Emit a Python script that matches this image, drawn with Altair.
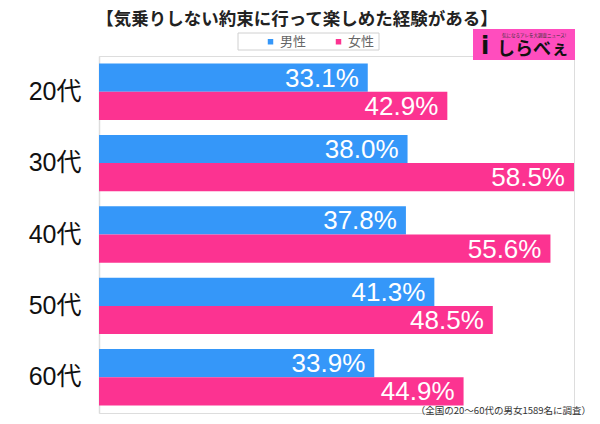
import altair as alt
import pandas as pd

ages = ["20代", "30代", "40代", "50代", "60代"]
genders = ["男性", "女性"]
male = [33.1, 38.0, 37.8, 41.3, 33.9]
female = [42.9, 58.5, 55.6, 48.5, 44.9]
colors = ["#3597F9", "#FC3391"]
title_text = "【気乗りしない約束に行って楽しめた経験がある】"
note_text = "（全国の20〜60代の男女1589名に調査）"
logo_text = "しらべぇ"
logo_tag = "気になるアレを大調査ニュース!"

rows = []
for i, a in enumerate(ages):
    rows.append({"age": a, "gender": genders[0], "value": male[i]})
    rows.append({"age": a, "gender": genders[1], "value": female[i]})
df = pd.DataFrame(rows)

FONT = "Noto Sans CJK JP, Liberation Sans, sans-serif"
NUMFONT = "Liberation Sans, Noto Sans CJK JP, sans-serif"
W, H = 475, 357

base = alt.Chart(df).transform_calculate(
    label="format(datum.value, '.1f') + '%'"
)

x_enc = alt.X("value:Q", scale=alt.Scale(domain=[0, 58.5], nice=False, zero=True), axis=None)
y_enc = alt.Y(
    "age:N",
    sort=ages,
    scale=alt.Scale(paddingInner=0.21, paddingOuter=0.105),
    axis=alt.Axis(
        title=None, ticks=False, domainColor="#dddddd", domainWidth=1.5,
        labelFontSize=25, labelPadding=18, labelColor="#111111", labelFont=NUMFONT,
    ),
)
yoff = alt.YOffset("gender:N", sort=genders, scale=alt.Scale(paddingInner=0, paddingOuter=0))

bars = base.mark_bar().encode(
    x=x_enc,
    y=y_enc,
    yOffset=yoff,
    color=alt.Color(
        "gender:N",
        sort=genders,
        scale=alt.Scale(domain=genders, range=colors),
        legend=alt.Legend(
            title=None, orient="none", legendX=165, legendY=-21, direction="horizontal",
            symbolType="square", symbolSize=30, symbolStrokeWidth=0,
            labelFontSize=13, labelColor="#666666", labelFont=FONT, labelOffset=3,
            columnPadding=25, padding=0,
        ),
    ),
)

labels = base.mark_text(
    align="right", baseline="middle", dx=-9, dy=1, color="white", fontSize=26, font=NUMFONT
).encode(x=x_enc, y=alt.Y("age:N", sort=ages), yOffset=yoff, text="label:N")

one = pd.DataFrame({"t": [title_text], "n": [note_text], "l": [logo_text], "g": [logo_tag]})

title = alt.Chart(one).mark_text(
    fontSize=17.5, fontWeight="bold", font=FONT, color="#222222", align="center", baseline="middle"
).encode(x=alt.value(198), y=alt.value(-36), text="t:N")

legend_box = alt.Chart(one).mark_rect(fill="white", stroke="#d0d0d0", strokeWidth=1).encode(
    x=alt.value(139), x2=alt.value(280), y=alt.value(-23), y2=alt.value(-6)
)

logo_rect = alt.Chart(one).mark_rect(fill="#FF4DBE").encode(
    x=alt.value(374), x2=alt.value(476), y=alt.value(-27), y2=alt.value(4)
)
logo_main = alt.Chart(one).mark_text(
    fontSize=18, font=FONT, fontWeight="bold", color="#111111", align="left", baseline="middle"
).encode(x=alt.value(398), y=alt.value(-6), text="l:N")
logo_icon = alt.Chart(one).mark_text(
    fontSize=24, font="DejaVu Sans", fontWeight="bold", color="#111111", align="center", baseline="middle"
).encode(x=alt.value(386), y=alt.value(-9), text=alt.value("i"))
logo_small = alt.Chart(one).mark_text(
    fontSize=4.5, font=FONT, color="#333333", align="center", baseline="middle"
).encode(x=alt.value(435), y=alt.value(-20), text="g:N")

note = alt.Chart(one).mark_text(
    fontSize=9.5, font=FONT, color="#333333", align="right", baseline="middle"
).encode(x=alt.value(492), y=alt.value(355), text="n:N")

chart = alt.layer(
    legend_box, bars, labels, title, logo_rect, logo_icon, logo_main, logo_small, note
).properties(
    width=W, height=H,
    autosize=alt.AutoSizeParams(type="none"),
    padding={"left": 91, "top": 48, "right": 18, "bottom": 3},
).configure_view(stroke=None).configure(background="white")

chart.save("out.html", embed_options={"renderer": "svg", "actions": False})
